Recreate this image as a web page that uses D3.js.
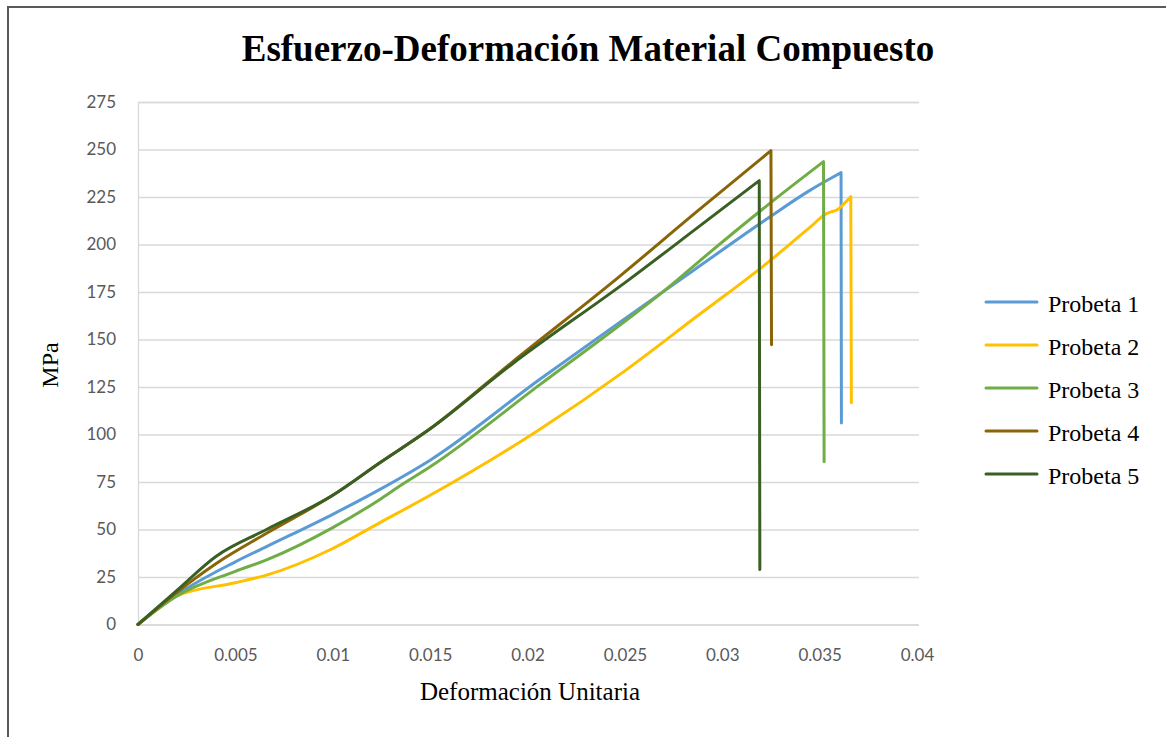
<!DOCTYPE html>
<html>
<head>
<meta charset="utf-8">
<script src="https://cdn.jsdelivr.net/npm/d3@7"></script>
<style>
  html, body { margin: 0; padding: 0; background: #fff; }
  svg { display: block; }
</style>
</head>
<body>
<svg id="chart" width="1166" height="737"></svg>
<script>
// ---- Data ----
const seriesNames = ["Probeta 1", "Probeta 2", "Probeta 3", "Probeta 4", "Probeta 5"];
const seriesColors = ["#5B9BD5", "#FFC000", "#70AD47", "#8A6508", "#3A5F24"];

const strain1 = [0, 0.00175, 0.005, 0.0066, 0.01, 0.0124, 0.015, 0.0206, 0.025, 0.0288, 0.0323, 0.0345, 0.0356, 0.0361, 0.03612];
const stress1 = [0, 14, 33, 41, 58, 71, 86.5, 128.8, 161, 188.4, 213.5, 228.5, 235, 237.8, 106];

const strain2 = [0, 0.002, 0.005, 0.0066, 0.01, 0.0124, 0.015, 0.0206, 0.025, 0.0288, 0.0323, 0.0345, 0.0354, 0.0357, 0.0359, 0.0362, 0.0366, 0.03663];
const stress2 = [0, 15, 22, 26, 40, 53.5, 68, 102.5, 133.5, 163, 190.2, 209, 216.5, 217.5, 218.2, 221, 225.2, 116.7];

const strain3 = [0, 0.002, 0.005, 0.0066, 0.01, 0.0124, 0.0134, 0.015, 0.0206, 0.0277, 0.0288, 0.0323, 0.0352, 0.03523];
const stress3 = [0, 15, 28, 34, 51, 65.7, 72.6, 83, 126, 181.4, 191, 220.5, 243.6, 85.7];

const strain4 = [0, 0.002, 0.004, 0.0066, 0.01, 0.0124, 0.015, 0.0192, 0.0247, 0.0288, 0.0325, 0.03253];
const stress4 = [0, 17, 32, 48, 68, 85, 103, 138, 183, 218.2, 249.4, 147.2];

const strain5 = [0, 0.002, 0.004, 0.0066, 0.01, 0.0124, 0.015, 0.0192, 0.0252, 0.0288, 0.0319, 0.03193];
const stress5 = [0, 18, 35.8, 50, 68, 85, 103, 137, 181.4, 209.4, 233.6, 29];

const xTicks = [0, 0.005, 0.01, 0.015, 0.02, 0.025, 0.03, 0.035, 0.04];
const xTickLabels = ["0", "0.005", "0.01", "0.015", "0.02", "0.025", "0.03", "0.035", "0.04"];
const yTicks = [0, 25, 50, 75, 100, 125, 150, 175, 200, 225, 250, 275];

const titleText = "Esfuerzo-Deformación Material Compuesto";
const xTitle = "Deformación Unitaria";
const yTitle = "MPa";

// ---- Build ----
const strains = [strain1, strain2, strain3, strain4, strain5];
const stresses = [stress1, stress2, stress3, stress4, stress5];
const series = seriesNames.map((name, i) => ({
  name, color: seriesColors[i],
  points: strains[i].map((s, j) => ({ x: s, y: stresses[i][j] }))
}));

const svg = d3.select("#chart");
const plot = { left: 138, right: 917, top: 102, bottom: 624.5 };

const x = d3.scaleLinear().domain([0, 0.04]).range([plot.left, plot.right]);
const y = d3.scaleLinear().domain([0, 275]).range([plot.bottom, plot.top]);

const serif = "'Liberation Serif', 'Times New Roman', serif";
const sans = "Lato, 'Liberation Sans', sans-serif";

// outer frame
svg.append("rect")
  .attr("x", 8).attr("y", 7).attr("width", 1170).attr("height", 740)
  .attr("fill", "none").attr("stroke", "#595959").attr("stroke-width", 2);

// title
svg.append("text")
  .attr("x", 588).attr("y", 61)
  .attr("text-anchor", "middle")
  .style("font-family", serif)
  .attr("font-weight", "bold")
  .attr("font-size", 37)
  .attr("fill", "#000")
  .text(titleText);

// gridlines + y axis
const yAxis = d3.axisLeft(y).tickValues(yTicks).tickSize(-(plot.right - plot.left + 2)).tickPadding(22).tickFormat(d3.format("d"));
const gy = svg.append("g").attr("transform", `translate(${plot.left},0)`).call(yAxis);
gy.select(".domain").attr("stroke", "#d9d9d9").attr("stroke-width", 1.3);
gy.selectAll(".tick line").attr("stroke", "#d9d9d9").attr("stroke-width", 1.3);
gy.selectAll(".tick text")
  .style("font-family", sans)
  .attr("font-size", 17).attr("fill", "#595959");

const xAxis = d3.axisBottom(x).tickValues(xTicks).tickSize(0).tickPadding(24)
  .tickFormat((d, i) => xTickLabels[i]);
const gx = svg.append("g").attr("transform", `translate(0,${plot.bottom})`).call(xAxis);
gx.select(".domain").remove();
gx.selectAll(".tick text")
  .style("font-family", sans)
  .attr("font-size", 17).attr("fill", "#595959");

// axis titles
svg.append("text")
  .attr("x", 530).attr("y", 700)
  .attr("text-anchor", "middle")
  .style("font-family", serif)
  .attr("font-size", 25).attr("fill", "#000")
  .text(xTitle);

svg.append("text")
  .attr("transform", "translate(58,365) rotate(-90)")
  .attr("text-anchor", "middle")
  .style("font-family", serif)
  .attr("font-size", 24).attr("fill", "#000")
  .text(yTitle);

// lines: smooth rising branch, straight vertical drop at rupture
const curve = d3.line().x(d => x(d.x)).y(d => y(d.y)).curve(d3.curveMonotoneX);
function seriesPath(pts) {
  const rise = pts.slice(0, -1);
  const last = pts[pts.length - 1];
  return curve(rise) + "L" + x(last.x) + "," + y(last.y);
}
svg.append("g").selectAll("path").data(series).join("path")
  .attr("d", d => seriesPath(d.points))
  .attr("fill", "none")
  .attr("stroke", d => d.color)
  .attr("stroke-width", 3)
  .attr("stroke-linejoin", "round")
  .attr("stroke-linecap", "round");

// legend
const legend = svg.append("g");
const rowY = d3.scalePoint().domain(seriesNames).range([304, 476]);
const items = legend.selectAll("g").data(series).join("g")
  .attr("transform", d => `translate(0,${rowY(d.name)})`);
items.append("line")
  .attr("x1", 986).attr("x2", 1037).attr("y1", -2).attr("y2", -2)
  .attr("stroke", d => d.color).attr("stroke-width", 3).attr("stroke-linecap", "round");
items.append("text")
  .attr("x", 1048).attr("y", 8)
  .style("font-family", serif)
  .attr("font-size", 24).attr("fill", "#000")
  .text(d => d.name);
</script>
</body>
</html>
